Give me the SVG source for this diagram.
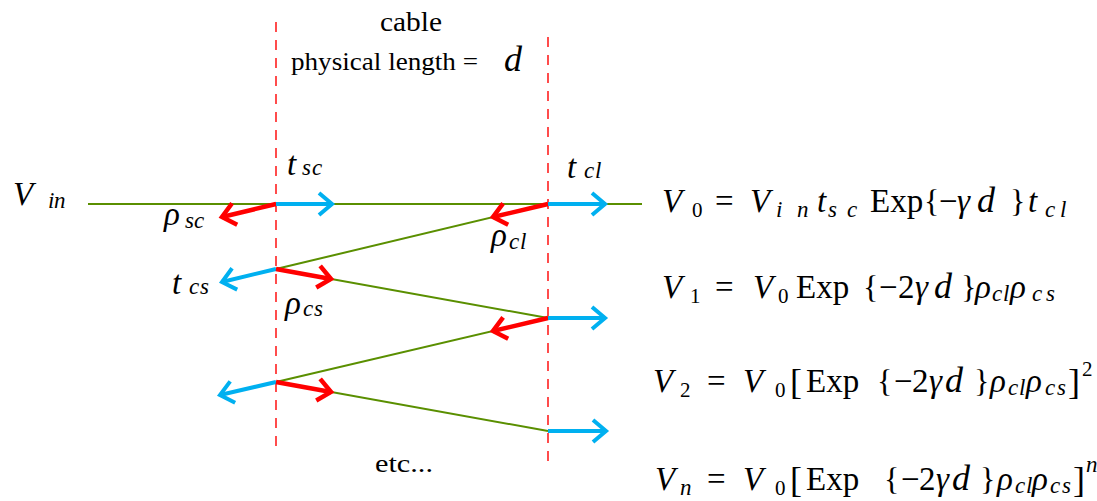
<svg xmlns="http://www.w3.org/2000/svg" width="1097" height="501" viewBox="0 0 1097 501" font-family="'Liberation Serif', 'DejaVu Serif', serif">
<style>
text{font-family:'Liberation Serif','DejaVu Serif',serif;fill:#000}
.mi{font-style:italic;font-size:33px}
.mn{font-size:33px}
.dd{font-style:italic;font-size:36px}
.sub{font-style:italic;font-size:23px}
.subn{font-size:21px}
.cb{font-size:32px}
.br{font-size:36px}
.lbl{font-size:26px}
.g{stroke:#5a8f00;stroke-width:2;fill:none}
.b{stroke:#00b0f0;stroke-width:4;fill:none}
.r{stroke:#ff0000;stroke-width:4.5;fill:none}
.dash{stroke:#ff0000;stroke-width:1.4;stroke-dasharray:10 8;fill:none}
</style>
<defs>
<marker id="ab" markerUnits="userSpaceOnUse" orient="auto" refX="0" refY="0" markerWidth="40" markerHeight="40" style="overflow:visible">
<path d="M-13,-11 L0,0 L-13,11" fill="none" stroke="#00b0f0" stroke-width="4"/>
</marker>
<marker id="ar" markerUnits="userSpaceOnUse" orient="auto" refX="0" refY="0" markerWidth="40" markerHeight="40" style="overflow:visible">
<path d="M-13,-11 L0,0 L-13,11" fill="none" stroke="#ff0000" stroke-width="4.5"/>
</marker>
</defs>
<rect width="1097" height="501" fill="#fff"/>

<g id="cable-bounds">
<line class="dash" x1="276" y1="22" x2="276" y2="446"/>
<line class="dash" x1="548" y1="37" x2="548" y2="462"/>
</g>

<g id="connectors">
<line class="g" x1="88" y1="204" x2="642" y2="204"/>
<line class="g" x1="276" y1="269" x2="548" y2="204"/>
<line class="g" x1="276" y1="269" x2="548" y2="318"/>
<line class="g" x1="548" y1="318" x2="276" y2="382"/>
<line class="g" x1="276" y1="382" x2="548" y2="431"/>
<line class="r" x1="276" y1="204" x2="222" y2="217" marker-end="url(#ar)"/>
<line class="b" x1="276" y1="204" x2="332" y2="204" marker-end="url(#ab)"/>
<line class="r" x1="548" y1="204" x2="493" y2="217" marker-end="url(#ar)"/>
<line class="b" x1="548" y1="204" x2="605" y2="204" marker-end="url(#ab)"/>
<line class="b" x1="276" y1="269" x2="222" y2="282" marker-end="url(#ab)"/>
<line class="r" x1="276" y1="269" x2="331" y2="279" marker-end="url(#ar)"/>
<line class="r" x1="548" y1="318" x2="493" y2="331" marker-end="url(#ar)"/>
<line class="b" x1="548" y1="318" x2="605" y2="318" marker-end="url(#ab)"/>
<line class="b" x1="276" y1="382" x2="220" y2="395" marker-end="url(#ab)"/>
<line class="r" x1="276" y1="382" x2="331" y2="392" marker-end="url(#ar)"/>
<line class="b" x1="548" y1="431" x2="606" y2="431" marker-end="url(#ab)"/>
</g>

<g id="title">
<text class="lbl" x="380" y="31" textLength="62" lengthAdjust="spacingAndGlyphs" style="font-size:27px">cable</text>
<text class="lbl" x="291" y="70" textLength="187" lengthAdjust="spacingAndGlyphs">physical length =</text>
<text class="dd" x="504" y="71">d</text>
</g>

<g id="label-vin">
<text class="mi" x="13" y="205">V</text>
<text class="sub" x="48" y="208">i</text><text class="sub" x="54" y="208">n</text>
</g>
<g id="label-tsc">
<text class="mi" x="287" y="175">t</text>
<text class="sub" x="302" y="175">s</text><text class="sub" x="312" y="175">c</text>
</g>
<g id="label-rsc">
<text class="mi" x="164" y="225">ρ</text>
<text class="sub" x="185" y="228">s</text><text class="sub" x="194" y="228">c</text>
</g>
<g id="label-tcs">
<text class="mi" x="172" y="294">t</text>
<text class="sub" x="189" y="294">c</text><text class="sub" x="200" y="294">s</text>
</g>
<g id="label-rcs">
<text class="mi" x="285" y="314">ρ</text>
<text class="sub" x="303" y="316">c</text><text class="sub" x="314" y="316">s</text>
</g>
<g id="label-tcl">
<text class="mi" x="567" y="178">t</text>
<text class="sub" x="584" y="178">c</text><text class="sub" x="595" y="178">l</text>
</g>
<g id="label-rcl">
<text class="mi" x="491" y="246">ρ</text>
<text class="sub" x="509" y="249">c</text><text class="sub" x="520" y="249">l</text>
</g>
<g id="label-etc">
<text class="lbl" x="375" y="472" textLength="58" lengthAdjust="spacingAndGlyphs">etc...</text>
</g>

<g id="eq-v0">
<text class="mi" x="662" y="212">V</text>
<text class="subn" x="692" y="217">0</text>
<text class="mn" x="715" y="212">=</text>
<text class="mi" x="750" y="212">V</text>
<text class="sub" x="776" y="217">i</text><text class="sub" x="797" y="217">n</text>
<text class="mi" x="817" y="212">t</text>
<text class="sub" x="828" y="217">s</text><text class="sub" x="847" y="217">c</text>
<text class="mn" x="870" y="212">Exp</text>
<text class="cb" x="924" y="212">{</text>
<text class="mn" x="939" y="212">−</text>
<text class="mi" x="957" y="212">γ</text>
<text class="dd" x="977" y="212">d</text>
<text class="cb" x="1010" y="212">}</text>
<text class="mi" x="1028" y="212">t</text>
<text class="sub" x="1045" y="217">c</text><text class="sub" x="1060" y="217">l</text>
</g>

<g id="eq-v1">
<text class="mi" x="662" y="298">V</text>
<text class="subn" x="690" y="303">1</text>
<text class="mn" x="715" y="298">=</text>
<text class="mi" x="753" y="298">V</text>
<text class="subn" x="778" y="303">0</text>
<text class="mn" x="796" y="298">Exp</text>
<text class="cb" x="863" y="298">{</text>
<text class="mn" x="879" y="298">−</text>
<text class="mn" x="898" y="298">2</text>
<text class="mi" x="915" y="298">γ</text>
<text class="dd" x="934" y="298">d</text>
<text class="cb" x="961" y="298">}</text>
<text class="mi" x="975" y="298">ρ</text>
<text class="sub" x="992" y="301">c</text><text class="sub" x="1003" y="301">l</text>
<text class="mi" x="1010" y="298">ρ</text>
<text class="sub" x="1032" y="301">c</text><text class="sub" x="1046" y="301">s</text>
</g>

<g id="eq-v2">
<text class="mi" x="653" y="392">V</text>
<text class="subn" x="680" y="397">2</text>
<text class="mn" x="707" y="392">=</text>
<text class="mi" x="743" y="392">V</text>
<text class="subn" x="775" y="397">0</text>
<text class="br" x="790" y="394">[</text>
<text class="mn" x="806" y="392">Exp</text>
<text class="cb" x="877" y="392">{</text>
<text class="mn" x="894" y="392">−</text>
<text class="mn" x="912" y="392">2</text>
<text class="mi" x="929" y="392">γ</text>
<text class="dd" x="945" y="392">d</text>
<text class="cb" x="974" y="392">}</text>
<text class="mi" x="990" y="392">ρ</text>
<text class="sub" x="1008" y="395">c</text><text class="sub" x="1019" y="395">l</text>
<text class="mi" x="1026" y="392">ρ</text>
<text class="sub" x="1045" y="395">c</text><text class="sub" x="1057" y="395">s</text>
<text class="br" x="1068" y="394">]</text>
<text class="subn" x="1082" y="376">2</text>
</g>

<g id="eq-vn">
<text class="mi" x="655" y="490">V</text>
<text class="sub" x="680" y="495">n</text>
<text class="mn" x="707" y="490">=</text>
<text class="mi" x="743" y="490">V</text>
<text class="subn" x="775" y="495">0</text>
<text class="br" x="790" y="492">[</text>
<text class="mn" x="806" y="490">Exp</text>
<text class="cb" x="884" y="490">{</text>
<text class="mn" x="901" y="490">−</text>
<text class="mn" x="919" y="490">2</text>
<text class="mi" x="936" y="490">γ</text>
<text class="dd" x="952" y="490">d</text>
<text class="cb" x="980" y="490">}</text>
<text class="mi" x="997" y="490">ρ</text>
<text class="sub" x="1015" y="493">c</text><text class="sub" x="1026" y="493">l</text>
<text class="mi" x="1032" y="490">ρ</text>
<text class="sub" x="1050" y="493">c</text><text class="sub" x="1062" y="493">s</text>
<text class="br" x="1073" y="492">]</text>
<text class="sub" x="1086" y="472">n</text>
</g>
</svg>
